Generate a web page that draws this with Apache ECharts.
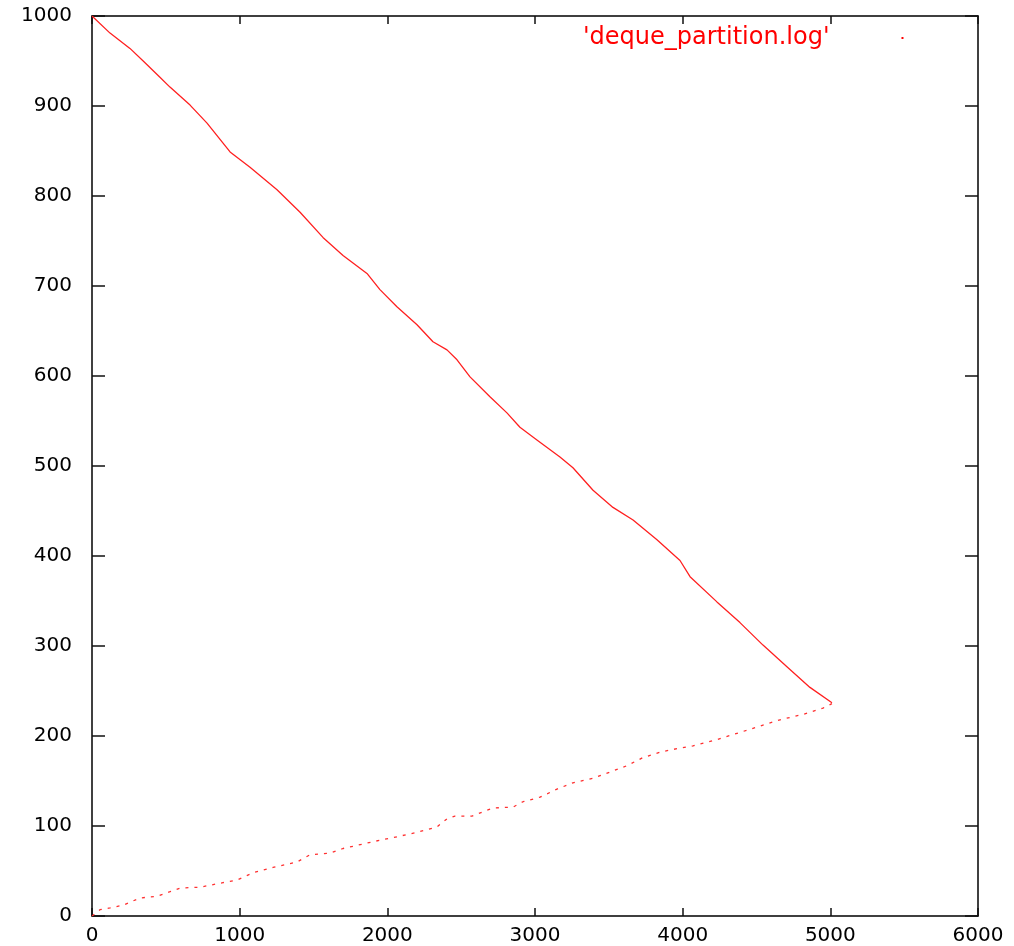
<!DOCTYPE html>
<html>
<head>
<meta charset="utf-8">
<script src="https://cdn.jsdelivr.net/npm/echarts@6/dist/echarts.min.js"></script>
<style>
  html, body { margin: 0; padding: 0; background: #fff; }
  #chart { width: 1014px; height: 946px; }
</style>
</head>
<body>
<div id="chart"></div>
<script>
  // values
  var seriesName = "'deque_partition.log'";
  var upperX = [0, 122, 257, 359, 460, 528, 664, 779, 935, 1070, 1253, 1409, 1564, 1700, 1862, 1950,
    2065, 2201, 2309, 2404, 2472, 2560, 2695, 2810, 2898, 3013, 3169, 3257, 3393, 3528, 3664, 3826,
    3982, 4050, 4232, 4388, 4544, 4706, 4862, 5011];
  var upperY = [1000, 981, 964, 948, 932, 921, 901, 881, 849, 832, 807, 782, 754, 734, 714, 696,
    677, 657, 638, 629, 618, 599, 577, 559, 543, 529, 510, 498, 473, 454, 440, 418,
    395, 377, 349, 326, 301, 277, 254, 237];
  var lowerX = [0, 54, 122, 210, 325, 440, 528, 596, 731, 887, 982, 1090, 1226, 1388, 1476, 1612,
    1700, 1862, 1971, 2065, 2201, 2336, 2404, 2458, 2573, 2715, 2851, 2919, 3034, 3149, 3257, 3393,
    3508, 3623, 3731, 3847, 3962, 4070, 4232, 4388, 4524, 4659, 4815, 4950, 5011];
  var lowerY = [0, 7, 9, 12, 20, 22, 27, 31, 32, 37, 40, 48, 54, 60, 68, 70,
    75, 81, 85, 88, 93, 99, 108, 111, 111, 120, 121, 127, 132, 141, 148, 153,
    160, 167, 176, 182, 186, 189, 196, 204, 211, 218, 224, 231, 236];

  function pairs(xs, ys) {
    var out = [];
    for (var i = 0; i < xs.length; i++) out.push([xs[i], ys[i]]);
    return out;
  }
  function plain(v) { return String(v); }

  var chart = echarts.init(document.getElementById('chart'));
  var labelFont = { fontFamily: 'DejaVu Sans', fontSize: 20, color: '#000', formatter: plain };
  var lineStyle = { color: '#000', width: 1.5 };
  var tickStyle = { color: '#111', width: 1.5 };

  chart.setOption({
    animation: false,
    grid: { left: 92, right: 36, top: 16, bottom: 30, containLabel: false },
    legend: {
      left: 578, top: 21,
      align: 'right',
      icon: 'rect', itemWidth: 2, itemHeight: 2,
      itemStyle: { color: '#ff0000' },
      data: [seriesName],
      formatter: function (name) { return '{t|' + name + '}{s| }'; },
      textStyle: {
        color: '#ff0000',
        rich: {
          t: { fontFamily: 'DejaVu Sans', fontSize: 24, color: '#ff0000' },
          s: { fontSize: 10, width: 67 }
        }
      }
    },
    xAxis: [
      {
        type: 'value', min: 0, max: 6000, interval: 1000, position: 'bottom',
        axisLine: { onZero: false, lineStyle: lineStyle },
        axisTick: { inside: true, length: 8, lineStyle: tickStyle },
        axisLabel: Object.assign({ margin: 10 }, labelFont),
        splitLine: { show: false }
      },
      {
        type: 'value', min: 0, max: 6000, interval: 1000, position: 'top',
        axisLine: { show: true, onZero: false, lineStyle: lineStyle },
        axisTick: { show: true, inside: true, length: 8, lineStyle: tickStyle },
        axisLabel: { show: false },
        splitLine: { show: false }
      }
    ],
    yAxis: [
      {
        type: 'value', min: 0, max: 1000, interval: 100, position: 'left',
        axisLine: { show: true, onZero: false, lineStyle: lineStyle },
        axisTick: { show: true, inside: true, length: 13, lineStyle: tickStyle },
        axisLabel: Object.assign({ margin: 20 }, labelFont),
        splitLine: { show: false }
      },
      {
        type: 'value', min: 0, max: 1000, interval: 100, position: 'right',
        axisLine: { show: true, onZero: false, lineStyle: lineStyle },
        axisTick: { show: true, inside: true, length: 13, lineStyle: tickStyle },
        axisLabel: { show: false },
        splitLine: { show: false }
      }
    ],
    series: [
      {
        name: seriesName, type: 'line', showSymbol: false,
        data: pairs(upperX, upperY),
        lineStyle: { color: '#ff2020', width: 1.3 },
        itemStyle: { color: '#ff0000' }
      },
      {
        name: seriesName, type: 'line', showSymbol: false,
        data: pairs(lowerX, lowerY),
        lineStyle: { color: '#ff3030', width: 1.3, type: [3, 6] },
        itemStyle: { color: '#ff0000' }
      }
    ]
  });
</script>
</body>
</html>
